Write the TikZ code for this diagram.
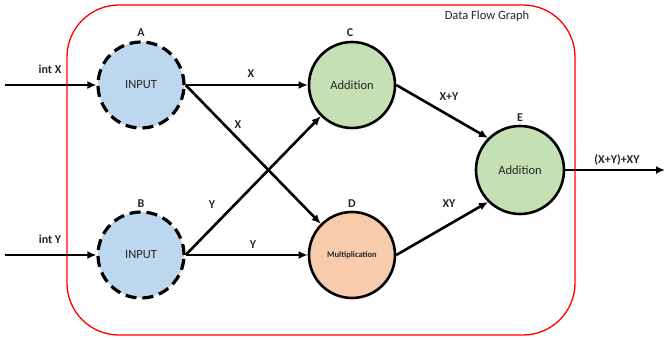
\documentclass[tikz,border=0pt]{standalone}
\usepackage{fontspec}
\setmainfont{Carlito}
\usetikzlibrary{arrows.meta}
\definecolor{inblue}{HTML}{BDD7EE}
\definecolor{addgreen}{HTML}{C5E0B4}
\definecolor{mulpeach}{HTML}{F8CBAD}
\definecolor{txt}{HTML}{262626}
\tikzset{
  opnode/.style={circle, draw=black, line width=2.6pt, minimum size=86pt, inner sep=0pt, text=txt, font=\fontsize{12.5}{14}\selectfont},
  innode/.style={opnode, fill=inblue, line width=3.2pt, dash pattern=on 11pt off 6pt},
  addnode/.style={opnode, fill=addgreen},
  mulnode/.style={opnode, fill=mulpeach, font=\bfseries\fontsize{8.5}{10}\selectfont},
  tag/.style={font=\bfseries\fontsize{12}{14}\selectfont, text=txt, inner sep=0pt},
  flow/.style={line width=2.6pt, -{Latex[length=9pt,width=8pt]}},
}
\begin{document}
\begin{tikzpicture}[x=1pt,y=-1pt]
\useasboundingbox (0,0) rectangle (667,340);
% enclosing frame
\draw[red, line width=1.3pt, rounded corners=52pt] (67,5) rectangle (575,335);
\node[font=\fontsize{12.5}{14}\selectfont, text=txt] (title) at (487,16) {Data Flow Graph};
% operation nodes
\node[innode] (A) at (141,85) {INPUT};
\node[innode] (B) at (141,255) {INPUT};
\node[addnode] (C) at (352,85) {Addition};
\node[mulnode] (D) at (352,255) {Multiplication};
\node[addnode, minimum size=88pt] (E) at (520,170) {Addition};
% node names
\node[tag] (la) at (141,33) {A};
\node[tag] (lb) at (141,204) {B};
\node[tag] (lc) at (350,33) {C};
\node[tag] (ld) at (352,204) {D};
\node[tag] (le) at (520,118) {E};
% external inputs and output
\coordinate (inx) at (5,85);
\coordinate (iny) at (5,255);
\coordinate (out) at (665,170);
\draw[flow] (inx) -- (A.west);
\draw[flow] (iny) -- (B.west);
\draw[flow] (E.east) -- (out);
\node[tag] (tx) at (50,69) {int X};
\node[tag] (ty) at (50,239) {int Y};
\node[tag] (tout) at (617,160) {(X+Y)+XY};
% data flow edges
\draw[flow] (A.east) -- (C.west);
\draw[flow] (A.east) -- (D.135);
\draw[flow] (B.east) -- (C.225);
\draw[flow] (B.east) -- (D.west);
\draw[flow] (C.east) -- (E.135);
\draw[flow] (D.east) -- (E.225);
\node[tag] (e1) at (251,74) {X};
\node[tag] (e2) at (238,125) {X};
\node[tag] (e3) at (212,205) {Y};
\node[tag] (e4) at (253,245) {Y};
\node[tag] (e5) at (449,97) {X+Y};
\node[tag] (e6) at (449,204) {XY};
\end{tikzpicture}
\end{document}
